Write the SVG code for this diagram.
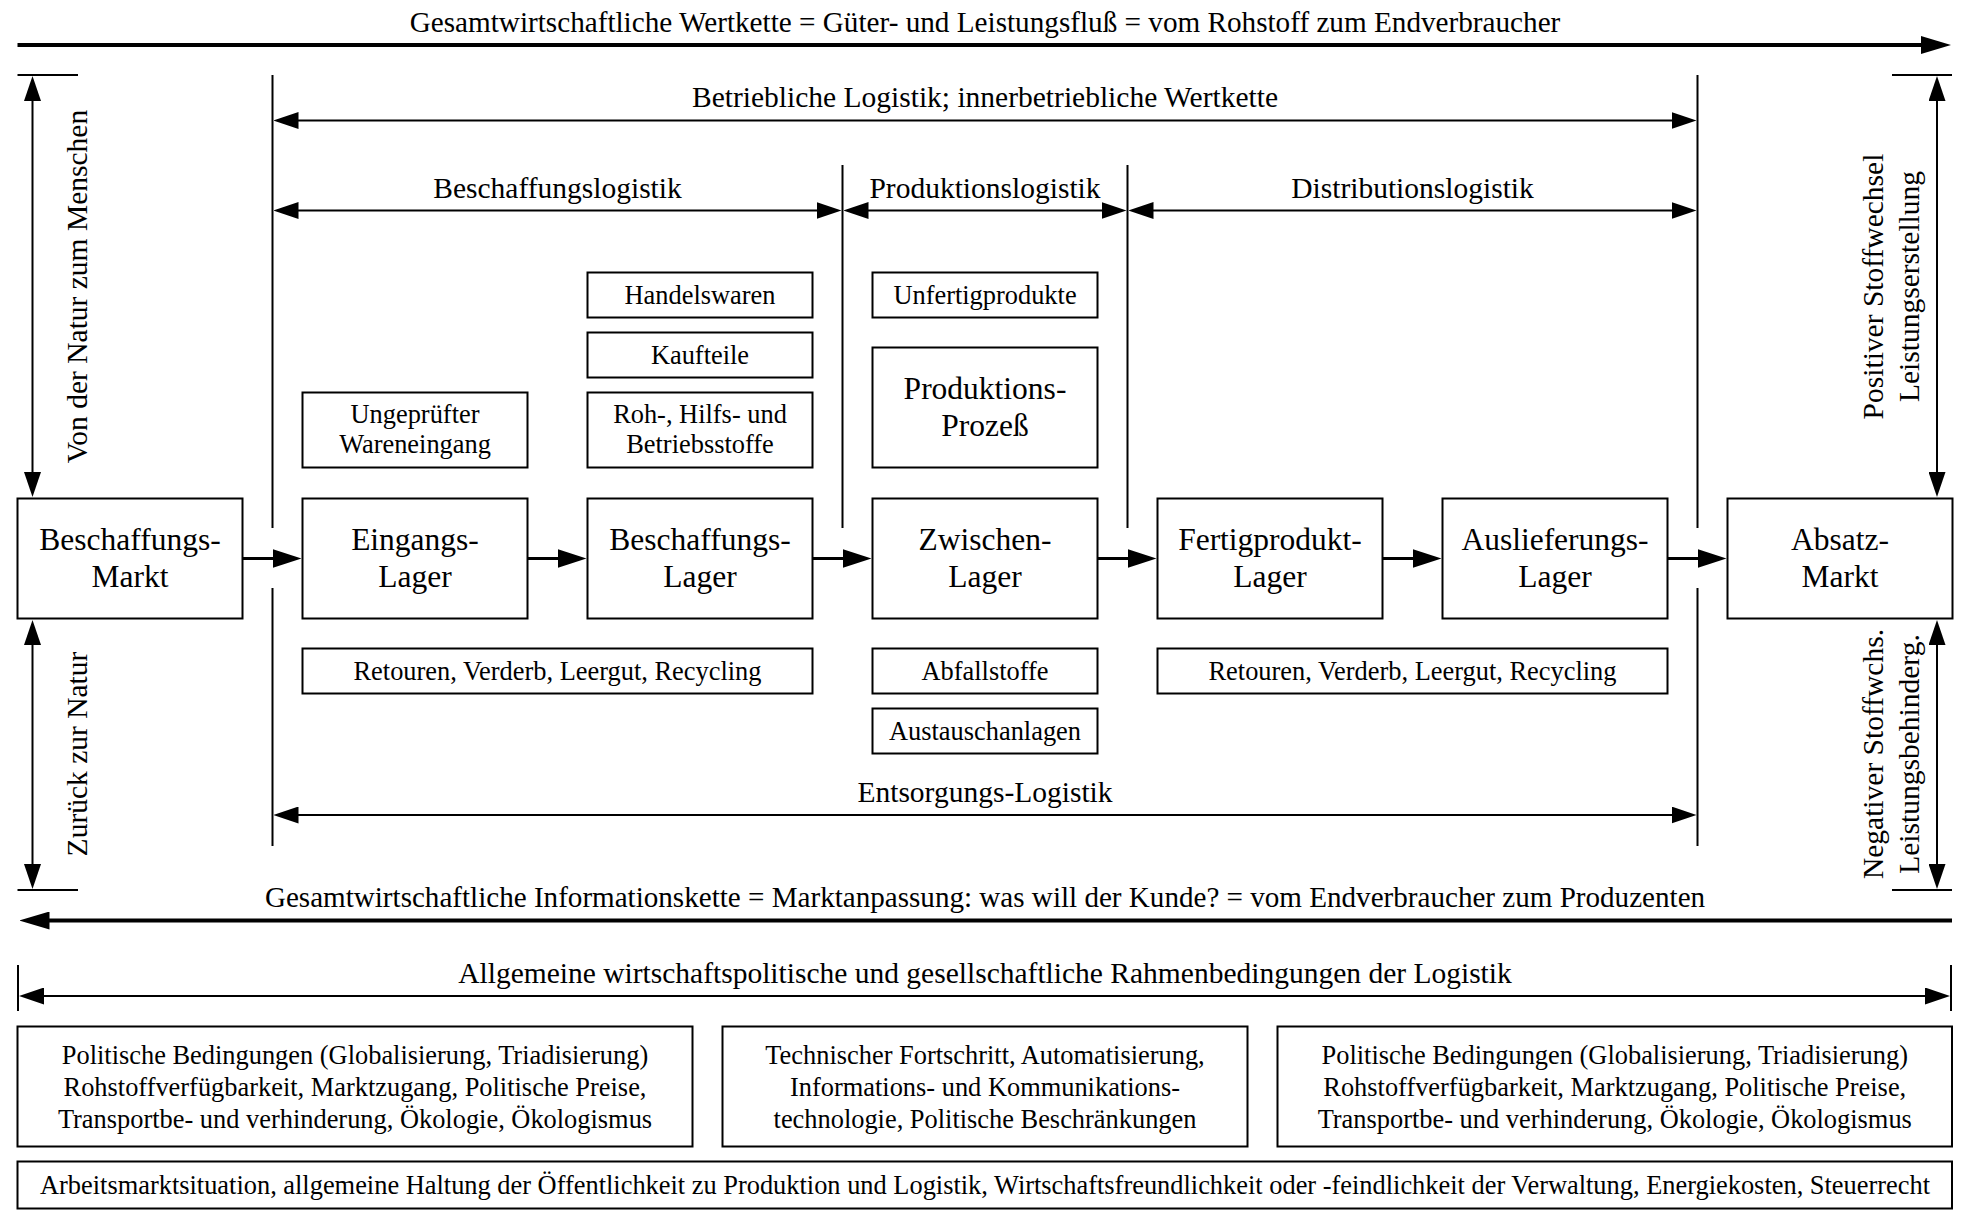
<svg xmlns="http://www.w3.org/2000/svg" width="1966" height="1221" viewBox="0 0 1966 1221">
  <style>
    text { font-family: "Liberation Serif", "Times New Roman", serif; fill: #000; text-anchor: middle; }
    .big { font-size: 31.5px; }
    .sm { font-size: 26.4px; }
    .lbl { font-size: 29.5px; }
    .box { fill: #fff; stroke: #000; stroke-width: 2; }
    .thin { stroke: #000; stroke-width: 2; fill: none; }
    .flow { stroke: #000; stroke-width: 3; fill: none; marker-end: url(#headFlow); }
    .main { stroke: #000; stroke-width: 4; fill: none; marker-end: url(#headMain); }
    .dim { stroke: #000; stroke-width: 2; fill: none; marker-start: url(#headDim); marker-end: url(#headDim); }
  </style>
  <defs>
    <marker id="headFlow" markerUnits="userSpaceOnUse" viewBox="0 0 29 19" markerWidth="29" markerHeight="19" refX="1" refY="9.5" orient="auto">
      <path d="M0,0 L29,9.5 L0,19 z" fill="#000"/>
    </marker>
    <marker id="headMain" markerUnits="userSpaceOnUse" viewBox="0 0 30 18" markerWidth="30" markerHeight="18" refX="1" refY="9" orient="auto">
      <path d="M0,0 L30,9 L0,18 z" fill="#000"/>
    </marker>
    <marker id="headDim" markerUnits="userSpaceOnUse" viewBox="0 0 25 17" markerWidth="25" markerHeight="17" refX="1" refY="8.5" orient="auto-start-reverse">
      <path d="M0,0 L25,8.5 L0,17 z" fill="#000"/>
    </marker>
  </defs>
  <rect width="1966" height="1221" fill="#fff"/>

  <!-- connectors, dimension lines and dividers -->
  <g id="connectors">
    <!-- overall value chain and information chain -->
    <line class="main" x1="17.5" y1="45" x2="1922" y2="45"/>
    <line class="main" x1="1952" y1="920.5" x2="48.5" y2="920.5"/>

    <!-- section dividers -->
    <line class="thin" x1="272.5" y1="75" x2="272.5" y2="528"/>
    <line class="thin" x1="272.5" y1="588" x2="272.5" y2="846"/>
    <line class="thin" x1="1697.5" y1="75" x2="1697.5" y2="528"/>
    <line class="thin" x1="1697.5" y1="588" x2="1697.5" y2="846"/>
    <line class="thin" x1="842.5" y1="165" x2="842.5" y2="528"/>
    <line class="thin" x1="1127.5" y1="165" x2="1127.5" y2="528"/>

    <!-- horizontal dimension arrows -->
    <line class="dim" x1="297.5" y1="120.5" x2="1672.5" y2="120.5"/>
    <line class="dim" x1="297.5" y1="210.5" x2="817.5" y2="210.5"/>
    <line class="dim" x1="867.5" y1="210.5" x2="1102.5" y2="210.5"/>
    <line class="dim" x1="1152.5" y1="210.5" x2="1672.5" y2="210.5"/>
    <line class="dim" x1="297.5" y1="815" x2="1672.5" y2="815"/>
    <line class="dim" x1="43" y1="996" x2="1926" y2="996"/>
    <line class="thin" x1="18" y1="965" x2="18" y2="1011"/>
    <line class="thin" x1="1951" y1="965" x2="1951" y2="1011"/>

    <!-- vertical dimension arrows, left -->
    <line class="thin" x1="17.5" y1="75" x2="78" y2="75"/>
    <line class="dim" x1="32.5" y1="100" x2="32.5" y2="473"/>
    <line class="dim" x1="32.5" y1="644" x2="32.5" y2="865"/>
    <line class="thin" x1="17.5" y1="890" x2="78" y2="890"/>
    <!-- vertical dimension arrows, right -->
    <line class="thin" x1="1892" y1="75" x2="1952" y2="75"/>
    <line class="dim" x1="1937" y1="100" x2="1937" y2="473"/>
    <line class="dim" x1="1937" y1="644" x2="1937" y2="865"/>
    <line class="thin" x1="1892" y1="890" x2="1952" y2="890"/>

    <!-- material flow -->
    <line class="flow" x1="242.5" y1="558.5" x2="273.5" y2="558.5"/>
    <line class="flow" x1="527.5" y1="558.5" x2="558.5" y2="558.5"/>
    <line class="flow" x1="812.5" y1="558.5" x2="843.5" y2="558.5"/>
    <line class="flow" x1="1097.5" y1="558.5" x2="1128.5" y2="558.5"/>
    <line class="flow" x1="1382.5" y1="558.5" x2="1413.5" y2="558.5"/>
    <line class="flow" x1="1667.5" y1="558.5" x2="1698.5" y2="558.5"/>
  </g>

  <!-- headings -->
  <g id="labels">
    <text class="lbl" x="985" y="31.5" style="font-size:29.2px">Gesamtwirtschaftliche Wertkette = Güter- und Leistungsfluß = vom Rohstoff zum Endverbraucher</text>
    <text class="lbl" x="985" y="106.5">Betriebliche Logistik; innerbetriebliche Wertkette</text>
    <text class="lbl" x="557.5" y="198">Beschaffungslogistik</text>
    <text class="lbl" x="985" y="198">Produktionslogistik</text>
    <text class="lbl" x="1412.5" y="198">Distributionslogistik</text>
    <text class="lbl" x="985" y="802">Entsorgungs-Logistik</text>
    <text class="lbl" x="985" y="907" style="font-size:29.1px">Gesamtwirtschaftliche Informationskette = Marktanpassung: was will der Kunde? = vom Endverbraucher zum Produzenten</text>
    <text class="lbl" x="985" y="983">Allgemeine wirtschaftspolitische und gesellschaftliche Rahmenbedingungen der Logistik</text>
    <text class="lbl" transform="translate(87,286.5) rotate(-90)">Von der Natur zum Menschen</text>
    <text class="lbl" transform="translate(87,754) rotate(-90)">Zurück zur Natur</text>
    <text class="lbl" transform="translate(1883,286.5) rotate(-90)">Positiver Stoffwechsel</text>
    <text class="lbl" transform="translate(1919,286.5) rotate(-90)">Leistungserstellung</text>
    <text class="lbl" transform="translate(1883,754) rotate(-90)">Negativer Stoffwchs.</text>
    <text class="lbl" transform="translate(1919,754) rotate(-90)">Leistungsbehinderg.</text>
  </g>

  <!-- main chain -->
  <g id="beschaffungsmarkt">
    <rect class="box" x="17.5" y="498.5" width="225" height="120"/>
    <text class="big" x="130" y="549.5">Beschaffungs-</text>
    <text class="big" x="130" y="587">Markt</text>
  </g>
  <g id="eingangslager">
    <rect class="box" x="302.5" y="498.5" width="225" height="120"/>
    <text class="big" x="415" y="549.5">Eingangs-</text>
    <text class="big" x="415" y="587">Lager</text>
  </g>
  <g id="beschaffungslager">
    <rect class="box" x="587.5" y="498.5" width="225" height="120"/>
    <text class="big" x="700" y="549.5">Beschaffungs-</text>
    <text class="big" x="700" y="587">Lager</text>
  </g>
  <g id="zwischenlager">
    <rect class="box" x="872.5" y="498.5" width="225" height="120"/>
    <text class="big" x="985" y="549.5">Zwischen-</text>
    <text class="big" x="985" y="587">Lager</text>
  </g>
  <g id="fertigproduktlager">
    <rect class="box" x="1157.5" y="498.5" width="225" height="120"/>
    <text class="big" x="1270" y="549.5">Fertigprodukt-</text>
    <text class="big" x="1270" y="587">Lager</text>
  </g>
  <g id="auslieferungslager">
    <rect class="box" x="1442.5" y="498.5" width="225" height="120"/>
    <text class="big" x="1555" y="549.5">Auslieferungs-</text>
    <text class="big" x="1555" y="587">Lager</text>
  </g>
  <g id="absatzmarkt">
    <rect class="box" x="1727.5" y="498.5" width="225" height="120"/>
    <text class="big" x="1840" y="549.5">Absatz-</text>
    <text class="big" x="1840" y="587">Markt</text>
  </g>

  <!-- goods above the chain -->
  <g id="ungepruefter">
    <rect class="box" x="302.5" y="392.5" width="225" height="75"/>
    <text class="sm" x="415" y="423">Ungeprüfter</text>
    <text class="sm" x="415" y="453">Wareneingang</text>
  </g>
  <g id="handelswaren">
    <rect class="box" x="587.5" y="272.5" width="225" height="45"/>
    <text class="sm" x="700" y="304">Handelswaren</text>
  </g>
  <g id="kaufteile">
    <rect class="box" x="587.5" y="332.5" width="225" height="45"/>
    <text class="sm" x="700" y="364">Kaufteile</text>
  </g>
  <g id="rohstoffe">
    <rect class="box" x="587.5" y="392.5" width="225" height="75"/>
    <text class="sm" x="700" y="423">Roh-, Hilfs- und</text>
    <text class="sm" x="700" y="453">Betriebsstoffe</text>
  </g>
  <g id="unfertigprodukte">
    <rect class="box" x="872.5" y="272.5" width="225" height="45"/>
    <text class="sm" x="985" y="304">Unfertigprodukte</text>
  </g>
  <g id="produktionsprozess">
    <rect class="box" x="872.5" y="347.5" width="225" height="120"/>
    <text class="big" x="985" y="398.5">Produktions-</text>
    <text class="big" x="985" y="436">Prozeß</text>
  </g>

  <!-- returns below the chain -->
  <g id="retouren-beschaffung">
    <rect class="box" x="302.5" y="648.5" width="510" height="45"/>
    <text class="sm" x="557.5" y="680">Retouren, Verderb, Leergut, Recycling</text>
  </g>
  <g id="abfallstoffe">
    <rect class="box" x="872.5" y="648.5" width="225" height="45"/>
    <text class="sm" x="985" y="680">Abfallstoffe</text>
  </g>
  <g id="austauschanlagen">
    <rect class="box" x="872.5" y="708.5" width="225" height="45"/>
    <text class="sm" x="985" y="740">Austauschanlagen</text>
  </g>
  <g id="retouren-distribution">
    <rect class="box" x="1157.5" y="648.5" width="510" height="45"/>
    <text class="sm" x="1412.5" y="680">Retouren, Verderb, Leergut, Recycling</text>
  </g>

  <!-- framework conditions -->
  <g id="politik-links">
    <rect class="box" x="17.5" y="1026.5" width="675" height="120"/>
    <text class="sm" x="355" y="1063.5">Politische Bedingungen (Globalisierung, Triadisierung)</text>
    <text class="sm" x="355" y="1095.5">Rohstoffverfügbarkeit, Marktzugang, Politische Preise,</text>
    <text class="sm" x="355" y="1127.5">Transportbe- und verhinderung, Ökologie, Ökologismus</text>
  </g>
  <g id="technik">
    <rect class="box" x="722.5" y="1026.5" width="525" height="120"/>
    <text class="sm" x="985" y="1063.5">Technischer Fortschritt, Automatisierung,</text>
    <text class="sm" x="985" y="1095.5">Informations- und Kommunikations-</text>
    <text class="sm" x="985" y="1127.5">technologie, Politische Beschränkungen</text>
  </g>
  <g id="politik-rechts">
    <rect class="box" x="1277.5" y="1026.5" width="674.5" height="120"/>
    <text class="sm" x="1614.75" y="1063.5">Politische Bedingungen (Globalisierung, Triadisierung)</text>
    <text class="sm" x="1614.75" y="1095.5">Rohstoffverfügbarkeit, Marktzugang, Politische Preise,</text>
    <text class="sm" x="1614.75" y="1127.5">Transportbe- und verhinderung, Ökologie, Ökologismus</text>
  </g>
  <g id="arbeitsmarkt">
    <rect class="box" x="17.5" y="1161.5" width="1934.5" height="47"/>
    <text class="sm" x="985" y="1194">Arbeitsmarktsituation, allgemeine Haltung der Öffentlichkeit zu Produktion und Logistik, Wirtschaftsfreundlichkeit oder -feindlichkeit der Verwaltung, Energiekosten, Steuerrecht</text>
  </g>
</svg>
